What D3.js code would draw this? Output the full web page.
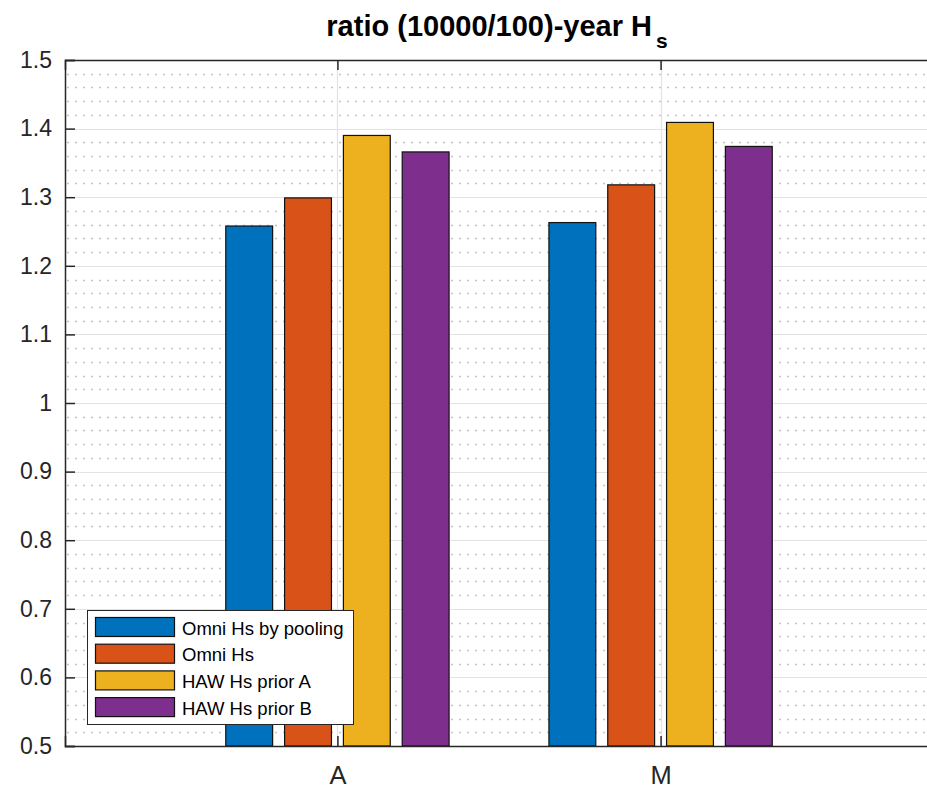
<!DOCTYPE html>
<html>
<head>
<meta charset="utf-8">
<script src="https://cdn.jsdelivr.net/npm/d3@7"></script>
<style>
  html, body { margin: 0; padding: 0; background: #fff; }
  svg { display: block; font-family: "Liberation Sans", Arial, sans-serif; }
</style>
</head>
<body>
<svg id="chart" width="927" height="791"></svg>
<script>
// Sites on the x axis
const categories = ["A", "M"];
// Series names (legend order)
const seriesNames = ["Omni Hs by pooling", "Omni Hs", "HAW Hs prior A", "HAW Hs prior B"];
// Ratio of 10000-year to 100-year Hs, one array per series (A, M)
const omniPooling = [1.258, 1.263];
const omniHs      = [1.299, 1.318];
const hawPriorA   = [1.390, 1.409];
const hawPriorB   = [1.366, 1.374];
// Y tick labels
const yTicks = [0.5, 0.6, 0.7, 0.8, 0.9, 1, 1.1, 1.2, 1.3, 1.4, 1.5];

const seriesValues = [omniPooling, omniHs, hawPriorA, hawPriorB];
const colors = ["#0072BD", "#D95319", "#EDB120", "#7E2F8E"];

const svg = d3.select("#chart");
const plotLeft = 65, plotRight = 933, plotTop = 60, plotBottom = 746;

const x = d3.scaleLinear().domain([0.157, 2.843]).range([plotLeft, plotRight]);
const y = d3.scaleLinear().domain([0.5, 1.5]).range([plotBottom, plotTop]);

const axisColor = "#262626";

// Minor dotted gridlines every 0.02
const minor = d3.range(0.52, 1.5, 0.02).filter(v => Math.abs(Math.round(v * 10) - v * 10) > 1e-6);
svg.append("g").selectAll("line").data(minor).join("line")
  .attr("x1", plotLeft + 2).attr("x2", plotRight)
  .attr("y1", d => Math.round(y(d)) + 0.5).attr("y2", d => Math.round(y(d)) + 0.5)
  .attr("stroke", "#c4c4c4").attr("stroke-width", 1.5)
  .attr("stroke-dasharray", "2,6");

// Major gridlines
svg.append("g").selectAll("line").data(yTicks.slice(1, -1)).join("line")
  .attr("x1", plotLeft).attr("x2", plotRight)
  .attr("y1", d => Math.round(y(d)) + 0.5).attr("y2", d => Math.round(y(d)) + 0.5)
  .attr("stroke", "#e3e3e3").attr("stroke-width", 1.2);
svg.append("g").selectAll("line").data([1, 2]).join("line")
  .attr("x1", d => Math.round(x(d)) + 0.5).attr("x2", d => Math.round(x(d)) + 0.5)
  .attr("y1", plotTop).attr("y2", plotBottom)
  .attr("stroke", "#e3e3e3").attr("stroke-width", 1.2);

// Bars
const step = 0.182, barW = 0.145;
const offsets = [-1.5, -0.5, 0.5, 1.5].map(k => k * step);
seriesValues.forEach((vals, si) => {
  svg.append("g").selectAll("rect").data(vals).join("rect")
    .attr("x", (d, i) => x(i + 1 + offsets[si] - barW / 2))
    .attr("width", x(barW) - x(0))
    .attr("y", d => y(d))
    .attr("height", d => y(0.5) - y(d))
    .attr("fill", colors[si])
    .attr("stroke", "#111").attr("stroke-width", 1.2);
});

// Axes
const yAxis = d3.axisLeft(y).tickValues(yTicks).tickSize(-10).tickPadding(13)
  .tickFormat(d => d3.format("")(+d.toFixed(1)));
const gy = svg.append("g").attr("transform", `translate(${plotLeft},0)`).call(yAxis);
gy.selectAll("text").attr("font-size", 23).attr("fill", axisColor);

const xAxis = d3.axisBottom(x).tickValues([1, 2]).tickSize(-10).tickPadding(20)
  .tickFormat((d, i) => categories[i]);
const gx = svg.append("g").attr("transform", `translate(0,${plotBottom})`).call(xAxis);
gx.selectAll("text").attr("font-size", 25.5).attr("fill", axisColor);

const xTop = d3.axisTop(x).tickValues([1, 2]).tickSize(-10).tickFormat("");
const gt = svg.append("g").attr("transform", `translate(0,${plotTop})`).call(xTop);

[gy, gx, gt].forEach(g => {
  g.select(".domain").attr("stroke", axisColor).attr("stroke-width", 1.5);
  g.selectAll(".tick line").attr("stroke", axisColor).attr("stroke-width", 1.5);
  g.attr("font-family", null);
});

// Title
const title = svg.append("text")
  .attr("x", (plotLeft + plotRight) / 2 - 2).attr("y", 36)
  .attr("text-anchor", "middle")
  .attr("font-size", 29).attr("font-weight", "bold").attr("fill", "#000");
title.append("tspan").text("ratio (10000/100)-year H");
title.append("tspan").attr("dx", 4).attr("dy", 12).attr("font-size", 21).text("s");

// Legend
const legend = svg.append("g");
legend.append("rect")
  .attr("x", 87.5).attr("y", 610.5).attr("width", 266).attr("height", 114)
  .attr("fill", "#fff").attr("stroke", axisColor).attr("stroke-width", 1);
seriesNames.forEach((name, i) => {
  const cy = 627 + i * 26.7;
  legend.append("rect")
    .attr("x", 95.5).attr("y", cy - 9.5).attr("width", 79).attr("height", 19)
    .attr("fill", colors[i]).attr("stroke", "#111").attr("stroke-width", 1.2);
  legend.append("text")
    .attr("x", 182).attr("y", cy + 7.5)
    .attr("font-size", 18.5).attr("fill", "#000")
    .text(name);
});
</script>
</body>
</html>
